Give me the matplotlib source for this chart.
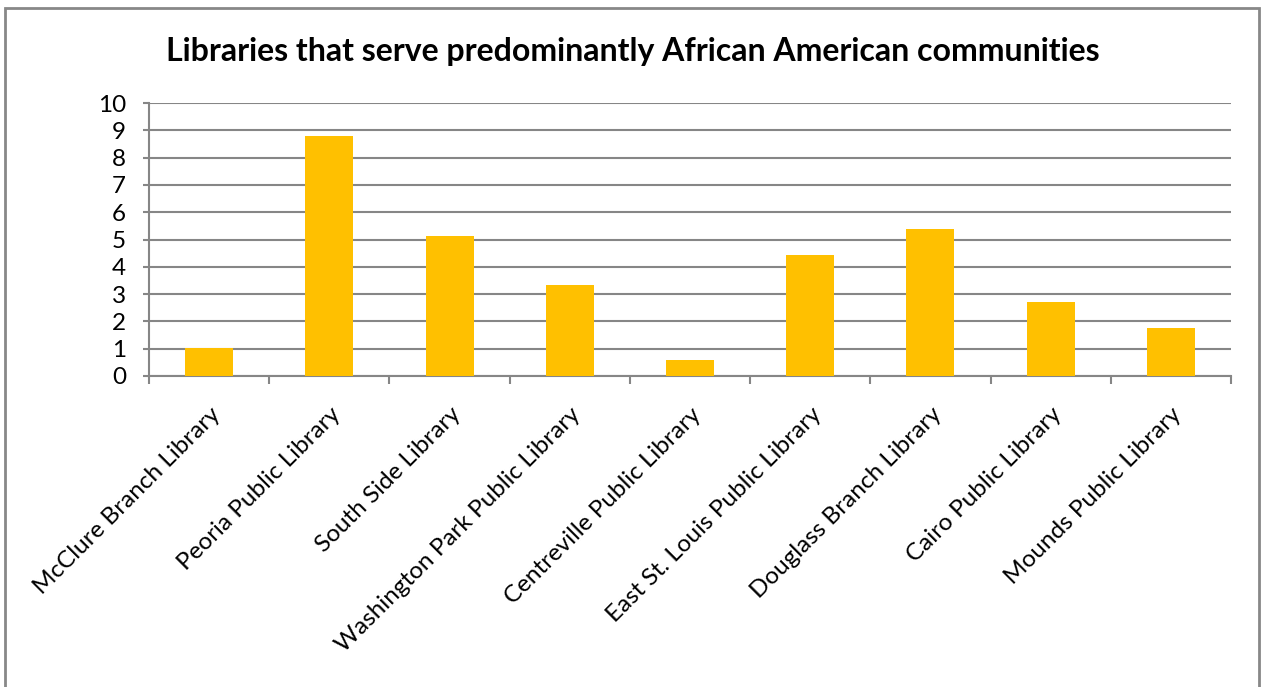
import matplotlib
matplotlib.use("Agg")
import matplotlib.pyplot as plt
from matplotlib.patches import Rectangle

libraries = ["McClure Branch Library", "Peoria Public Library", "South Side Library",
             "Washington Park Public Library", "Centreville Public Library",
             "East St. Louis Public Library", "Douglass Branch Library",
             "Cairo Public Library", "Mounds Public Library"]
values = [1.02, 8.80, 5.12, 3.32, 0.57, 4.43, 5.39, 2.71, 1.76]
y_ticks = list(range(0, 11))

GOLD = "#FFC000"; GRID = "#868686"
plt.rcParams["font.family"] = ["Lato", "DejaVu Sans"]

fig = plt.figure(figsize=(12.61, 6.87), dpi=100)
ax = fig.add_axes([149/1261, 1-376/687, (1231-149)/1261, (376-103)/687])

x = list(range(len(libraries)))
ax.bar(x, values, width=0.4, color=GOLD, zorder=3)
ax.set_xlim(-0.5, len(libraries)-0.5)
ax.set_ylim(0, 10)
ax.set_yticks(y_ticks)
ax.set_yticklabels([str(t) for t in y_ticks], fontsize=17.5)
ax.yaxis.grid(True, color=GRID, lw=1.5, zorder=0)
ax.set_axisbelow(True)

# category labels at centres, tick marks at boundaries
ax.set_xticks(x)
ax.set_xticklabels(libraries, rotation=45, ha="right", rotation_mode="anchor", fontsize=17.5)
ax.tick_params(axis="x", length=0, pad=20)
ax.set_xticks([i-0.5 for i in range(len(libraries)+1)], minor=True)
ax.tick_params(axis="x", which="minor", length=6, width=1.5, color=GRID, direction="out")
ax.tick_params(axis="y", length=4.5, width=1.5, color=GRID, direction="out", pad=12)

for sp in ("top", "right"):
    ax.spines[sp].set_visible(False)
for sp in ("left", "bottom"):
    ax.spines[sp].set_color(GRID)
    ax.spines[sp].set_linewidth(1.5)

fig.text(633/1261, 1-51/687, "Libraries that serve predominantly African American communities",
         ha="center", va="center", fontsize=23, fontweight="bold")

# chart border
fig.patches.append(Rectangle((5/1261, -0.01), 1254/1261, 1-8/687+0.01, transform=fig.transFigure,
                             fill=False, ec="#888888", lw=2))

fig.savefig("out.png", dpi=100)
